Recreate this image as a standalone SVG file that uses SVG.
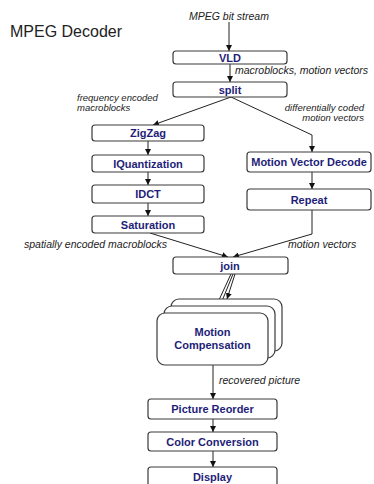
<svg xmlns="http://www.w3.org/2000/svg" width="374" height="484" viewBox="0 0 374 484">
  <defs>
    <marker id="arrow" viewBox="0 0 8 8" refX="8" refY="4" markerWidth="6" markerHeight="6" orient="auto" markerUnits="userSpaceOnUse">
      <path d="M0,0 L8,4 L0,8 Z" fill="#111"/>
    </marker>
    <style>
      .box { fill: #ffffff; stroke: #3a3a3a; stroke-width: 1.2; }
      .name { font-family: "Liberation Sans", Arial, sans-serif; font-weight: bold; font-size: 11px; fill: #1e1e78; text-anchor: middle; }
      .lbl { font-family: "Liberation Sans", Arial, sans-serif; font-style: italic; font-size: 10.5px; fill: #222; }
      .lbl2 { font-family: "Liberation Sans", Arial, sans-serif; font-style: italic; font-size: 9.5px; fill: #222; }
      .edge { fill: none; stroke: #222; stroke-width: 1; }
      .title { font-family: "Liberation Sans", Arial, sans-serif; font-size: 16px; fill: #222; }
    </style>
  </defs>
  <rect width="374" height="484" fill="#ffffff"/>

  <text class="title" x="10" y="37">MPEG Decoder</text>

  <!-- connectors -->
  <g id="connectors">
    <line class="edge" x1="229" y1="22" x2="229" y2="51" marker-end="url(#arrow)"/>
    <line class="edge" x1="230" y1="64" x2="230" y2="82" marker-end="url(#arrow)"/>
    <line class="edge" x1="231" y1="97" x2="153" y2="125" marker-end="url(#arrow)"/>
    <polyline class="edge" points="231,97 312,135 312,152" marker-end="url(#arrow)"/>
    <line class="edge" x1="148" y1="141" x2="148" y2="155" marker-end="url(#arrow)"/>
    <line class="edge" x1="148" y1="172" x2="148" y2="185" marker-end="url(#arrow)"/>
    <line class="edge" x1="148" y1="203" x2="148" y2="216" marker-end="url(#arrow)"/>
    <line class="edge" x1="312" y1="172" x2="312" y2="189" marker-end="url(#arrow)"/>
    <line class="edge" x1="150" y1="233" x2="228" y2="257" marker-end="url(#arrow)"/>
    <polyline class="edge" points="312,210 312,234 233,257" marker-end="url(#arrow)"/>
    <line class="edge" x1="235" y1="274" x2="227" y2="299" marker-end="url(#arrow)"/>
    <line class="edge" x1="233" y1="274" x2="220" y2="306" marker-end="url(#arrow)"/>
    <line class="edge" x1="231" y1="274" x2="213" y2="313" marker-end="url(#arrow)"/>
    <line class="edge" x1="213" y1="365" x2="213" y2="399" marker-end="url(#arrow)"/>
    <line class="edge" x1="213" y1="419" x2="213" y2="432" marker-end="url(#arrow)"/>
    <line class="edge" x1="213" y1="451" x2="213" y2="467" marker-end="url(#arrow)"/>
  </g>

  <!-- edge labels -->
  <g id="labels">
    <text class="lbl" x="189" y="20">MPEG bit stream</text>
    <text class="lbl" x="235" y="74">macroblocks, motion vectors</text>
    <text class="lbl2" x="77" y="101">frequency encoded</text>
    <text class="lbl2" x="77" y="111">macroblocks</text>
    <text class="lbl2" x="364" y="111" text-anchor="end">differentially coded</text>
    <text class="lbl2" x="364" y="121" text-anchor="end">motion vectors</text>
    <text class="lbl" x="24" y="248">spatially encoded macroblocks</text>
    <text class="lbl" x="288" y="248">motion vectors</text>
    <text class="lbl" x="219" y="384">recovered picture</text>
  </g>

  <g id="vld">
    <rect class="box" x="173" y="51" width="114" height="13" rx="3"/>
    <text class="name" x="230" y="61.5">VLD</text>
  </g>
  <g id="split">
    <rect class="box" x="173" y="82" width="114" height="15" rx="3"/>
    <text class="name" x="230" y="93.5">split</text>
  </g>
  <g id="zigzag">
    <rect class="box" x="92" y="125" width="112" height="16" rx="3"/>
    <text class="name" x="148" y="137">ZigZag</text>
  </g>
  <g id="iquantization">
    <rect class="box" x="92" y="155" width="112" height="17" rx="3"/>
    <text class="name" x="148" y="167.5">IQuantization</text>
  </g>
  <g id="idct">
    <rect class="box" x="92" y="185" width="112" height="18" rx="3"/>
    <text class="name" x="148" y="198">IDCT</text>
  </g>
  <g id="saturation">
    <rect class="box" x="92" y="216" width="112" height="17" rx="3"/>
    <text class="name" x="148" y="228.5">Saturation</text>
  </g>
  <g id="motion-vector-decode">
    <rect class="box" x="247" y="152" width="124" height="20" rx="3"/>
    <text class="name" x="309" y="166">Motion Vector Decode</text>
  </g>
  <g id="repeat">
    <rect class="box" x="247" y="189" width="124" height="21" rx="3"/>
    <text class="name" x="309" y="203.5">Repeat</text>
  </g>
  <g id="join">
    <rect class="box" x="173" y="257" width="115" height="17" rx="3"/>
    <text class="name" x="230" y="269.5">join</text>
  </g>
  <g id="motion-compensation">
    <rect class="box" x="171" y="299" width="111" height="52" rx="8"/>
    <rect class="box" x="164" y="306" width="111" height="52" rx="8"/>
    <rect class="box" x="157" y="313" width="111" height="52" rx="8"/>
    <text class="name" x="212.5" y="336">Motion</text>
    <text class="name" x="212.5" y="349">Compensation</text>
  </g>
  <g id="picture-reorder">
    <rect class="box" x="148" y="399" width="129" height="20" rx="3"/>
    <text class="name" x="212.5" y="413">Picture Reorder</text>
  </g>
  <g id="color-conversion">
    <rect class="box" x="148" y="432" width="129" height="19" rx="3"/>
    <text class="name" x="212.5" y="445.5">Color Conversion</text>
  </g>
  <g id="display">
    <rect class="box" x="148" y="467" width="129" height="22" rx="3"/>
    <text class="name" x="212.5" y="481">Display</text>
  </g>
</svg>
